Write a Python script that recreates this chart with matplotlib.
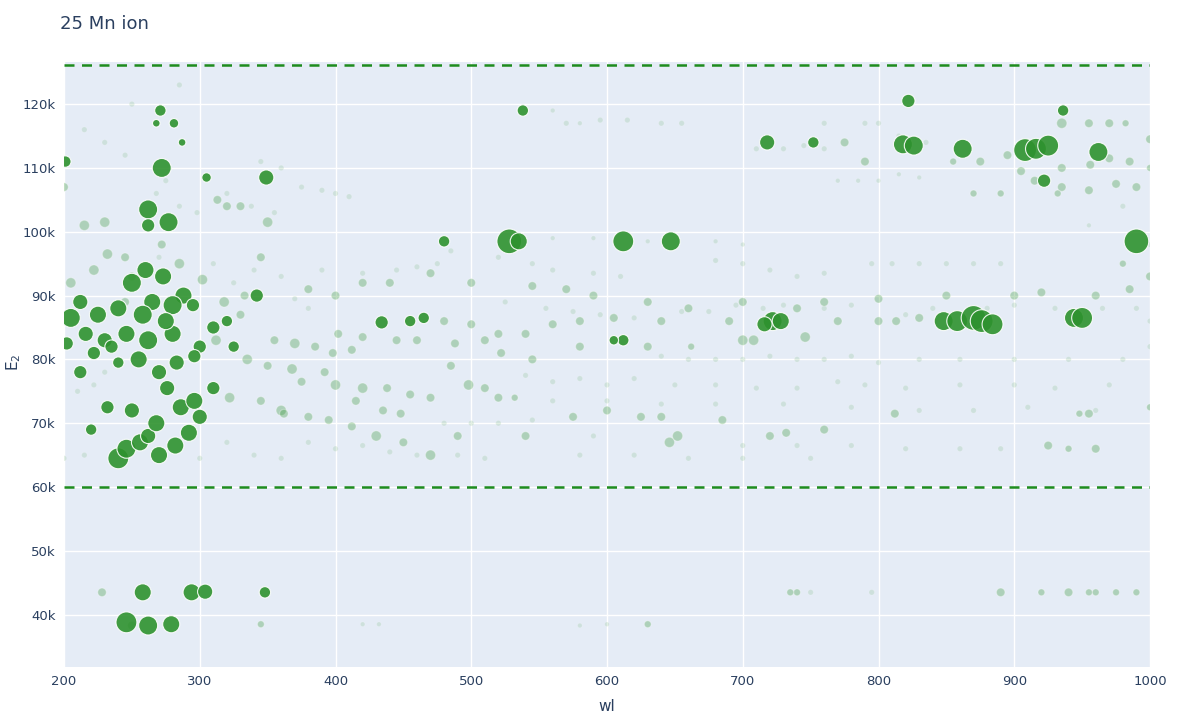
import numpy as np
import matplotlib.pyplot as plt

# (wl nm, E2 in k, marker diameter px) -- strong lines
strong = [
    (201, 111, 12), (272, 110, 20), (262, 103.5, 20), (262, 101, 14), (277, 101.5, 20),
    (349, 108.5, 16), (271, 119, 12), (281, 117, 10), (268, 117, 8), (287, 114, 8),
    (305, 108.5, 10), (528, 98.5, 26), (535, 98.5, 18), (612, 98.5, 22), (647, 98.5, 20),
    (480, 98.5, 12), (718, 114, 16), (752, 114, 12), (822, 120.5, 14), (818, 113.7, 20),
    (826, 113.5, 20), (862, 113, 20), (908, 112.8, 24), (916, 113, 22), (925, 113.5, 22),
    (990, 98.5, 26), (962, 112.5, 20), (922, 108, 14), (936, 119, 12), (538, 119, 12),
    (722, 86, 20), (728, 86, 18), (716, 85.5, 16), (848, 86, 20), (858, 86, 22),
    (870, 86.5, 26), (876, 86, 24), (884, 85.5, 22), (944, 86.5, 20), (950, 86.5, 22),
    (434, 85.8, 14), (455, 86, 12), (465, 86.5, 12), (612, 83, 12), (605, 83, 10),
    (246, 38.8, 22), (262, 38.3, 20), (279, 38.5, 18), (258, 43.5, 18), (294, 43.5, 18),
    (304, 43.6, 16), (348, 43.5, 12), (240, 64.5, 22), (246, 66, 20), (270, 65, 18),
    (282, 66.5, 18), (256, 67, 18), (262, 68, 16), (292, 68.5, 18), (300, 71, 16),
    (286, 72.5, 18), (276, 75.5, 16), (310, 75.5, 14), (232, 72.5, 14), (250, 72, 16),
    (268, 70, 18), (296, 73.5, 18), (220, 69, 12), (250, 92, 20), (260, 94, 18),
    (273, 93, 18), (288, 90, 18), (295, 88.5, 14), (280, 88.5, 20), (265, 89, 18),
    (240, 88, 18), (225, 87, 18), (212, 89, 16), (205, 86.5, 20), (216, 84, 16),
    (230, 83, 16), (246, 84, 18), (262, 83, 20), (280, 84, 18), (300, 82, 14),
    (283, 79.5, 16), (270, 78, 16), (255, 80, 18), (235, 82, 14), (222, 81, 14),
    (212, 78, 14), (296, 80.5, 14), (320, 86, 12), (342, 90, 14), (202, 82.5, 14),
    (310, 85, 14), (325, 82, 12), (240, 79.5, 12), (258, 87, 20), (275, 86, 18),
]
# medium lines, semi transparent
medium = [
    (200, 107, 10), (215, 101, 12), (230, 101.5, 12), (250, 93, 10), (232, 96.5, 12),
    (245, 96, 10), (205, 92, 12), (222, 94, 12), (285, 95, 12), (302, 92.5, 12),
    (318, 89, 12), (330, 87, 10), (355, 83, 10), (370, 82.5, 12), (385, 82, 10),
    (398, 81, 10), (412, 81.5, 10), (345, 96, 10), (333, 90, 10), (312, 83, 12),
    (335, 80, 12), (350, 79, 10), (368, 78.5, 12), (392, 78, 10), (420, 75.5, 12),
    (438, 75.5, 10), (455, 74.5, 10), (470, 74, 10), (520, 74, 10), (532, 74, 8),
    (322, 74, 12), (345, 73.5, 10), (360, 72, 12), (380, 71, 10), (395, 70.5, 10),
    (412, 69.5, 10), (430, 68, 12), (450, 67, 10), (470, 65, 12), (490, 68, 10),
    (540, 68, 10), (575, 71, 10), (600, 72, 10), (625, 71, 10), (640, 71, 10),
    (646, 67, 12), (652, 68, 12), (685, 70.5, 10), (720, 68, 10), (732, 68.5, 10),
    (760, 69, 10), (812, 71.5, 10), (925, 66.5, 10), (960, 66, 10), (940, 66, 8),
    (955, 71.5, 10), (948, 71.5, 8), (480, 86, 10), (500, 85.5, 10),
    (520, 84, 10), (540, 84, 10), (560, 85.5, 10), (580, 86, 10), (605, 86.5, 10),
    (640, 86, 10), (690, 86, 10), (740, 88, 10), (770, 86, 10), (800, 86, 10),
    (813, 86, 10), (830, 86.5, 10), (700, 83, 12), (708, 83, 12), (746, 83.5, 12),
    (488, 82.5, 10), (510, 83, 10), (522, 81, 10), (545, 80, 10), (580, 82, 10),
    (630, 82, 10), (662, 82, 8), (402, 84, 10), (420, 83.5, 10), (445, 83, 10),
    (460, 83, 10), (380, 91, 10), (400, 90, 10), (420, 92, 10), (440, 92, 10),
    (470, 93.5, 10), (500, 92, 10), (545, 91.5, 10), (570, 91, 10), (590, 90, 10),
    (630, 89, 10), (660, 88, 10), (700, 89, 10), (760, 89, 10), (800, 89.5, 10),
    (850, 90, 10), (900, 90, 10), (920, 90.5, 10), (960, 90, 10), (985, 91, 10),
    (775, 114, 10), (790, 111, 10), (855, 111, 8), (875, 111, 10), (895, 112, 10),
    (935, 110, 10), (956, 110.5, 10), (970, 111.5, 10), (985, 111, 10), (935, 117, 12),
    (955, 117, 10), (970, 117, 10), (982, 117, 8), (1000, 114.5, 10), (1000, 110, 8),
    (915, 108, 10), (935, 107, 10), (955, 106.5, 10), (975, 107.5, 10), (990, 107, 10),
    (932, 106, 8), (905, 109.5, 10), (890, 106, 8), (870, 106, 8), (313, 105, 10),
    (320, 104, 10), (330, 104, 10), (350, 101.5, 12), (245, 89, 10), (272, 98, 10),
    (415, 73.5, 10), (435, 72, 10), (448, 71.5, 10), (498, 76, 12), (510, 75.5, 10),
    (362, 71.5, 10), (375, 76.5, 10), (400, 76, 12), (485, 79, 10), (630, 38.5, 8),
    (228, 43.5, 10), (250, 38.3, 10), (345, 38.5, 8), (890, 43.5, 10), (920, 43.5, 8),
    (940, 43.5, 10), (960, 43.5, 8), (975, 43.5, 8), (990, 43.5, 8), (955, 43.5, 8),
    (740, 43.5, 8), (735, 43.5, 8), (1000, 72.5, 8), (1000, 93, 10), (980, 95, 8),
]
# faint lines
faint = [
    (215, 116, 6), (230, 114, 6), (245, 112, 6), (275, 108, 6), (320, 106, 6),
    (338, 104, 6), (355, 103, 6), (375, 107, 6), (390, 106.5, 6), (400, 106, 6),
    (410, 105.5, 6), (268, 106, 6), (285, 104, 6), (298, 103, 6), (345, 111, 6),
    (360, 110, 6), (285, 123, 6), (250, 120, 6), (570, 117, 6), (595, 117.5, 6),
    (615, 117.5, 6), (640, 117, 6), (655, 117, 6), (560, 119, 5), (580, 117, 5),
    (760, 117, 6), (790, 117, 6), (800, 117, 6), (815, 115, 6), (835, 114, 6),
    (770, 108, 5), (785, 108, 5), (800, 108, 5), (815, 109, 5), (830, 108.5, 5),
    (710, 113, 6), (730, 113, 6), (745, 113.5, 6), (760, 113, 6), (795, 95, 6),
    (810, 95, 6), (830, 95, 6), (850, 95, 6), (870, 95, 6), (890, 95, 6),
    (700, 95, 6), (720, 94, 6), (740, 93, 6), (760, 93.5, 6), (680, 95.5, 6),
    (420, 93.5, 6), (445, 94, 6), (460, 94.5, 6), (475, 95, 6), (485, 97, 6),
    (520, 96, 6), (545, 95, 6), (560, 94, 6), (590, 93.5, 6), (610, 93, 6),
    (525, 89, 6), (555, 88, 6), (575, 87.5, 6), (595, 87, 6), (620, 86.5, 6),
    (655, 87.5, 6), (675, 87.5, 6), (695, 88.5, 6), (715, 88, 6), (730, 88.5, 6),
    (760, 88, 6), (780, 88.5, 6), (820, 87, 6), (840, 88, 6), (880, 88, 6),
    (900, 88.5, 6), (930, 88, 6), (965, 88, 6), (990, 88, 6), (640, 80.5, 6),
    (660, 80, 6), (680, 80, 6), (700, 80, 6), (720, 80.5, 6), (740, 80, 6),
    (760, 80, 6), (780, 80.5, 6), (800, 79.5, 6), (830, 80, 6), (860, 80, 6),
    (900, 80, 6), (940, 80, 6), (980, 80, 6), (540, 77.5, 6), (560, 76.5, 6),
    (580, 77, 6), (600, 76, 6), (620, 77, 6), (650, 76, 6), (680, 76, 6),
    (710, 75.5, 6), (740, 75.5, 6), (770, 76.5, 6), (790, 76, 6), (820, 75.5, 6),
    (860, 76, 6), (900, 76, 6), (930, 75.5, 6), (970, 76, 6), (560, 73.5, 6),
    (600, 73.5, 6), (640, 73, 6), (680, 73, 6), (730, 73, 6), (780, 72.5, 6),
    (830, 72, 6), (870, 72, 6), (910, 72.5, 6), (960, 72, 6), (700, 66.5, 6),
    (740, 66.5, 6), (780, 66.5, 6), (820, 66, 6), (860, 66, 6), (890, 66, 6),
    (580, 65, 6), (620, 65, 6), (660, 64.5, 6), (700, 64.5, 6), (750, 64.5, 6),
    (480, 70, 6), (500, 70, 6), (520, 70, 6), (545, 70.5, 6), (590, 68, 6),
    (380, 67, 6), (400, 66, 6), (420, 66.5, 6), (440, 65.5, 6), (460, 65, 6),
    (490, 65, 6), (510, 64.5, 6), (340, 65, 6), (360, 64.5, 6), (300, 64.5, 6),
    (320, 67, 6), (380, 88, 6), (370, 89.5, 6), (360, 93, 6), (390, 94, 6),
    (340, 94, 6), (325, 92, 6), (215, 65, 6), (200, 64.5, 6), (210, 75, 6),
    (222, 76, 6), (230, 78, 6), (310, 95, 6), (270, 96, 6), (560, 99, 5),
    (590, 99, 5), (630, 98.5, 5), (680, 98.5, 5), (700, 98, 5), (420, 38.5, 5),
    (432, 38.5, 5), (580, 38.3, 5), (600, 38.5, 5), (795, 43.5, 6), (750, 43.5, 6),
    (1000, 82, 6), (1000, 86, 6), (1000, 98, 6), (955, 101, 5), (980, 104, 6),
]

title = "25 Mn ion"
x_ticks = [200, 300, 400, 500, 600, 700, 800, 900, 1000]
y_ticks = [40, 50, 60, 70, 80, 90, 100, 110, 120]
y_ticklabels = ["40k", "50k", "60k", "70k", "80k", "90k", "100k", "110k", "120k"]
band_lo, band_hi = 60, 126.2

fig = plt.figure(figsize=(12, 7.2), dpi=100)
ax = fig.add_axes([64 / 1200, 53 / 720, 1086 / 1200, 605 / 720])
ax.set_facecolor("#e5ecf6")
for s in ax.spines.values():
    s.set_visible(False)

px2pt = 72 / 100
for data, alpha, scale, z in [(faint, 0.13, 0.9, 2), (medium, 0.3, 0.85, 3), (strong, 0.9, 0.95, 4)]:
    arr = np.array(data)
    ax.scatter(arr[:, 0], arr[:, 1] * 1000, s=(arr[:, 2] * scale * px2pt) ** 2,
               color="#2e922e", alpha=alpha, edgecolors="white", linewidths=0.8, zorder=z)

ax.axhline(band_lo * 1000, color="#1e8c1e", ls=(0, (4, 3)), lw=1.8, zorder=5)
ax.axhline(band_hi * 1000, color="#1e8c1e", ls=(0, (4, 3)), lw=1.8, zorder=5)

ax.set_xlim(200, 1000)
ax.set_ylim(31800, 126600)
ax.set_xticks(x_ticks)
ax.set_yticks([v * 1000 for v in y_ticks])
ax.set_yticklabels(y_ticklabels)
ax.grid(color="white", lw=1, zorder=0)
ax.set_axisbelow(True)
ax.tick_params(length=0, colors="#2a3f5f", labelsize=9.5, pad=6)
ax.set_xlabel("wl", color="#2a3f5f", fontsize=11, labelpad=8)
fig.text(14 / 1200, 1 - 362 / 720, "E$_2$", color="#2a3f5f", fontsize=11,
         rotation=90, ha="center", va="center")
fig.text(60 / 1200, 1 - 24 / 720, title, color="#2a3f5f", fontsize=13, va="center")

fig.savefig("out.png")
